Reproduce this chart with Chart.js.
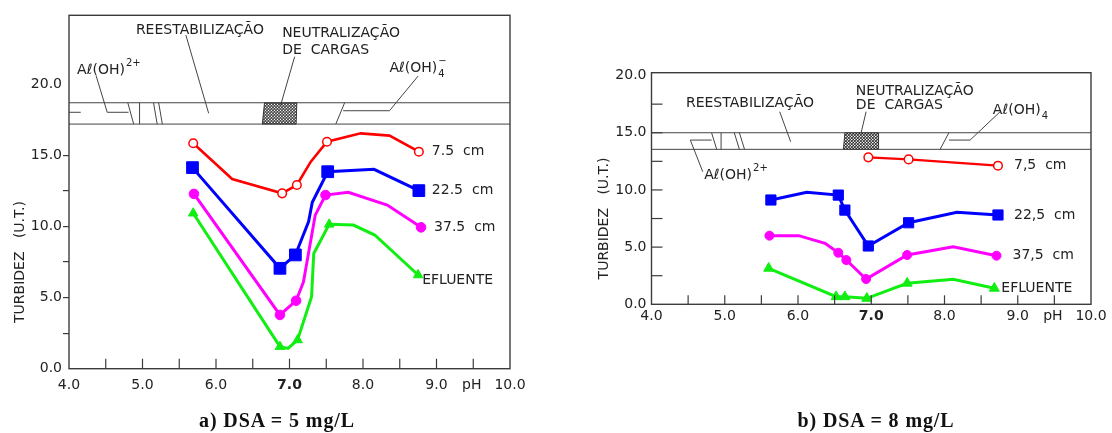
<!DOCTYPE html>
<html>
<head>
<meta charset="utf-8">
<script src="https://cdn.jsdelivr.net/npm/chart.js@4.4.1/dist/chart.umd.min.js"></script>
<style>
  body { margin: 0; background: #fff; width: 1112px; height: 433px; position: relative; overflow: hidden; }
  canvas { position: absolute; top: 0; }
  .cap { position: absolute; top: 409px; font: bold 20px "Liberation Serif", serif; letter-spacing: 0.9px;
         transform: translateX(-50%); white-space: nowrap; color: #111; }
</style>
</head>
<body>
<canvas id="chartA" width="556" height="433" style="left:0"></canvas>
<canvas id="chartB" width="556" height="433" style="left:556px"></canvas>
<div class="cap" style="left:277px">a) DSA = 5 mg/L</div>
<div class="cap" style="left:876px">b) DSA = 8 mg/L</div>

<script>
// ---------- shared ticks ----------
const xTicks = [4, 4.5, 5, 5.5, 6, 6.5, 7, 7.5, 8, 8.5, 9, 9.5, 10];
const yTicksA = [0, 2.5, 5, 7.5, 10, 12.5, 15, 20];
const yTicksB = [0, 2.5, 5, 7.5, 10, 12.5, 15, 17.5, 20];

// ---------- a) DSA = 5 mg/L ----------
const namesA = ['7.5  cm', '22.5  cm', '37.5  cm', 'EFLUENTE'];
const phRedA    = [5.69, 6.22, 6.90, 7.10, 7.29, 7.51, 7.97, 8.36, 8.76];
const turbRedA  = [15.85, 13.34, 12.33, 12.92, 14.56, 15.96, 16.55, 16.39, 15.26];
const markRedA  = [1, 0, 1, 1, 0, 1, 0, 0, 1];
const phBlueA   = [5.68, 6.87, 7.08, 7.26, 7.31, 7.52, 8.15, 8.76];
const turbBlueA = [14.14, 7.06, 8.0, 10.34, 11.7, 13.85, 14.02, 12.52];
const markBlueA = [1, 1, 1, 0, 0, 1, 0, 1];
const phMagA    = [5.70, 6.87, 7.09, 7.19, 7.35, 7.49, 7.80, 8.33, 8.79];
const turbMagA  = [12.29, 3.78, 4.78, 6.1, 10.8, 12.21, 12.4, 11.51, 9.94];
const markMagA  = [1, 1, 1, 0, 0, 1, 0, 0, 1];
const phGrnA    = [5.69, 6.87, 6.98, 7.11, 7.30, 7.33, 7.54, 7.87, 8.16, 8.75];
const turbGrnA  = [10.93, 1.55, 1.43, 2.02, 5.06, 8.1, 10.15, 10.1, 9.4, 6.59];
const markGrnA  = [1, 1, 0, 1, 0, 0, 1, 0, 0, 1];

// ---------- b) DSA = 8 mg/L ----------
const namesB = ['7,5  cm', '22,5  cm', '37,5  cm', 'EFLUENTE'];
const phRedB    = [6.96, 7.51, 8.73];
const turbRedB  = [12.85, 12.67, 12.12];
const markRedB  = [1, 1, 1];
const phBlueB   = [5.63, 6.12, 6.55, 6.64, 6.96, 7.51, 8.17, 8.73];
const turbBlueB = [9.12, 9.79, 9.55, 8.24, 5.10, 7.13, 8.04, 7.81];
const markBlueB = [1, 0, 1, 1, 1, 1, 0, 1];
const phMagB    = [5.61, 6.01, 6.37, 6.55, 6.66, 6.93, 7.49, 8.12, 8.71];
const turbMagB  = [6.0, 6.0, 5.33, 4.51, 3.87, 2.21, 4.31, 5.03, 4.25];
const markMagB  = [1, 0, 0, 1, 1, 1, 1, 0, 1];
const phGrnB    = [5.60, 6.52, 6.64, 6.94, 7.49, 8.12, 8.68];
const turbGrnB  = [3.15, 0.66, 0.66, 0.52, 1.84, 2.19, 1.40];
const markGrnB  = [1, 1, 1, 1, 1, 0, 1];

const FONT = '"DejaVu Sans", sans-serif';
const INK = '#222';
const FRAME = '#3c3c3c';

Chart.defaults.font.family = FONT;
Chart.defaults.font.size = 14;
Chart.defaults.color = INK;

function series(ph, turb, mark, color, style, r, fill, lw) {
  return {
    data: ph.map((x, i) => ({ x: x, y: turb[i] })),
    borderColor: color,
    borderWidth: lw,
    tension: 0,
    pointStyle: style,
    pointRadius: ctx => mark[ctx.dataIndex] ? r : 0,
    pointHoverRadius: ctx => mark[ctx.dataIndex] ? r : 0,
    pointBackgroundColor: fill,
    pointBorderColor: color,
    pointBorderWidth: style === 'circle' && fill === '#ffffff' ? 1.5 : 1
  };
}

function drawPath(ctx, pts, X, Y) {
  ctx.beginPath();
  pts.forEach((p, i) => i ? ctx.lineTo(X(p[0]), Y(p[1])) : ctx.moveTo(X(p[0]), Y(p[1])));
  ctx.stroke();
}

// Aℓ(OH) with a raised or lowered suffix
function drawAl(ctx, x, y, sup, sub) {
  ctx.font = '14px ' + FONT;
  ctx.textAlign = 'left';
  ctx.textBaseline = 'middle';
  ctx.fillText('Aℓ(OH)', x, y);
  const w = ctx.measureText('Aℓ(OH)').width;
  ctx.font = '10px ' + FONT;
  if (sup) ctx.fillText(sup, x + w + 1, y - 7);
  if (sub) ctx.fillText(sub, x + w + 1, y + 6);
}

function makeFigure(id, cfg) {
  const W = 556, H = 433, a = cfg.area;
  const figure = {
    id: 'figure_' + id,
    beforeDatasetsDraw(chart) {
      const ctx = chart.ctx, xs = chart.scales.x, ys = chart.scales.y;
      const X = v => xs.getPixelForValue(v), Y = v => ys.getPixelForValue(v);
      const an = cfg.ann;
      ctx.save();
      ctx.strokeStyle = '#444';
      ctx.lineWidth = 1;
      // band
      [an.band[0], an.band[1]].forEach(v => {
        ctx.beginPath(); ctx.moveTo(a.left, Y(v)); ctx.lineTo(a.right, Y(v)); ctx.stroke();
      });
      an.segs.forEach(s => drawPath(ctx, s, X, Y));
      // hatched zone
      ctx.save();
      ctx.beginPath();
      an.hatch.forEach((p, i) => i ? ctx.lineTo(X(p[0]), Y(p[1])) : ctx.moveTo(X(p[0]), Y(p[1])));
      ctx.closePath();
      ctx.stroke();
      ctx.clip();
      ctx.strokeStyle = '#1a1a1a';
      ctx.lineWidth = 1;
      const hx0 = X(an.hatch[3][0]) - 30, hx1 = X(an.hatch[1][0]) + 30;
      const hy0 = Y(an.band[1]), hy1 = Y(an.band[0]);
      for (let t = hx0; t < hx1; t += 3) {
        ctx.beginPath(); ctx.moveTo(t, hy1); ctx.lineTo(t + (hy1 - hy0), hy0); ctx.stroke();
        ctx.beginPath(); ctx.moveTo(t, hy0); ctx.lineTo(t + (hy1 - hy0), hy1); ctx.stroke();
      }
      ctx.restore();
      // texts
      ctx.fillStyle = INK;
      ctx.font = '14px ' + FONT;
      ctx.textAlign = 'left';
      ctx.textBaseline = 'middle';
      an.texts.forEach(t => ctx.fillText(t[0], X(t[1]), Y(t[2])));
      an.al.forEach(t => drawAl(ctx, X(t[0]), Y(t[1]), t[2], t[3]));
      ctx.restore();
    },
    afterDraw(chart) {
      const ctx = chart.ctx, xs = chart.scales.x, ys = chart.scales.y;
      const X = v => xs.getPixelForValue(v), Y = v => ys.getPixelForValue(v);
      ctx.save();
      ctx.strokeStyle = FRAME;
      ctx.lineWidth = 1.4;
      ctx.strokeRect(a.left, a.top, a.right - a.left, a.bottom - a.top);
      ctx.lineWidth = 1.2;
      // inward x ticks
      xTicks.filter(v => v > 4 && v < 10).forEach(v => {
        ctx.beginPath(); ctx.moveTo(X(v), a.bottom); ctx.lineTo(X(v), a.bottom - cfg.xTickLen); ctx.stroke();
      });
      // inward y ticks
      if (cfg.yTickIn) {
        cfg.yTicks.filter(v => v > 0 && v < 20).forEach(v => {
          ctx.beginPath(); ctx.moveTo(a.left, Y(v)); ctx.lineTo(a.left + cfg.yTickIn, Y(v)); ctx.stroke();
        });
      }
      ctx.fillStyle = INK;
      ctx.font = '14px ' + FONT;
      ctx.textBaseline = 'middle';
      ctx.textAlign = 'left';
      // series names next to last points
      chart.data.datasets.forEach((ds, i) => {
        const last = ds.data[ds.data.length - 1];
        const off = cfg.nameOff[i];
        ctx.fillText(cfg.names[i], X(last.x) + off[0], Y(last.y) + off[1]);
      });
      // pH unit
      ctx.textAlign = 'center';
      ctx.fillText('pH', X(9.48), a.bottom + cfg.xLabelGap);
      // axis title
      ctx.translate(cfg.titleX, Y(7.5));
      ctx.rotate(-Math.PI / 2);
      ctx.fillText('TURBIDEZ   (U.T.)', 0, 0);
      ctx.restore();
    }
  };

  return new Chart(document.getElementById(id), {
    type: 'line',
    data: { datasets: cfg.datasets },
    options: {
      responsive: false,
      animation: false,
      layout: { padding: { left: 0, top: a.top, right: W - a.right, bottom: 0 } },
      plugins: { legend: { display: false }, tooltip: { enabled: false } },
      scales: {
        x: {
          type: 'linear', min: 4, max: 10,
          afterBuildTicks: s => { s.ticks = xTicks.map(v => ({ value: v })); },
          afterFit: s => { s.height = H - a.bottom; },
          grid: { display: false, drawTicks: false },
          border: { display: false },
          ticks: {
            autoSkip: false, maxRotation: 0, padding: cfg.xLabelGap - 8.4,
            callback: v => Number.isInteger(v) ? v.toFixed(1) : '',
            font: ctx => ({ family: FONT, size: 14, weight: ctx.tick && ctx.tick.value === 7 ? 'bold' : 'normal' })
          }
        },
        y: {
          type: 'linear', min: 0, max: cfg.yMax,
          afterBuildTicks: s => { s.ticks = cfg.yTicks.map(v => ({ value: v })); },
          afterFit: s => { s.width = a.left; },
          grid: {
            display: cfg.yTickOut > 0, drawOnChartArea: false, drawTicks: cfg.yTickOut > 0,
            tickLength: cfg.yTickOut, lineWidth: 1.2,
            color: ctx => ctx.tick && ctx.tick.value <= 15 && ctx.tick.value > 0 ? FRAME : 'rgba(0,0,0,0)'
          },
          border: { display: false },
          ticks: {
            autoSkip: false, padding: cfg.yLabelPad,
            callback: v => v % 5 === 0 ? v.toFixed(1) : ''
          }
        }
      }
    },
    plugins: [figure]
  });
}

makeFigure('chartA', {
  area: { left: 69, top: 15.3, right: 510, bottom: 368.7 },
  yMax: 24.85, yTicks: yTicksA, yTickOut: 6, yTickIn: 0, yLabelPad: 1,
  xTickLen: 10, xLabelGap: 16.3, titleX: 20,
  names: namesA,
  nameOff: [[13, 0], [13, 0], [13, 0], [4, 5]],
  datasets: [
    series(phRedA, turbRedA, markRedA, '#ff0000', 'circle', 4.3, '#ffffff', 2.6),
    series(phBlueA, turbBlueA, markBlueA, '#0000ff', 'rect', 8.3, '#0000ff', 3),
    series(phMagA, turbMagA, markMagA, '#ff00ff', 'circle', 4.8, '#ff00ff', 3),
    series(phGrnA, turbGrnA, markGrnA, '#11ee11', 'triangle', 5.5, '#11ee11', 3)
  ],
  ann: {
    band: [17.2, 18.7],
    segs: [
      [[4.0, 18.03], [4.16, 18.03]],
      [[4.37, 20.58], [4.52, 18.03], [4.81, 18.03]],
      [[4.80, 18.7], [4.88, 17.2]],
      [[4.96, 18.7], [4.96, 17.2]],
      [[5.15, 18.7], [5.20, 17.2]],
      [[5.22, 18.7], [5.27, 17.2]],
      [[5.59, 23.46], [5.90, 17.96]],
      [[7.07, 21.94], [6.88, 18.54]],
      [[7.75, 18.7], [7.63, 17.2]],
      [[7.73, 18.14], [8.36, 18.14], [8.75, 20.58]]
    ],
    hatch: [[6.66, 18.7], [7.10, 18.7], [7.09, 17.2], [6.63, 17.2]],
    texts: [
      ['REESTABILIZAÇÃO', 4.91, 23.8],
      ['NEUTRALIZAÇÃO', 6.90, 23.55],
      ['DE  CARGAS', 6.90, 22.4]
    ],
    al: [[4.11, 21.0, '2+', ''], [8.36, 21.1, '−', '4']]
  }
});

makeFigure('chartB', {
  area: { left: 95.5, top: 72.7, right: 535, bottom: 304.3 },
  yMax: 20.25, yTicks: yTicksB, yTickOut: 0, yTickIn: 11, yLabelPad: 5,
  xTickLen: 9, xLabelGap: 12.4, titleX: 48,
  names: namesB,
  nameOff: [[16, 0], [16, 0], [16, 0], [7, 0]],
  datasets: [
    series(phRedB, turbRedB, markRedB, '#ff0000', 'circle', 4.3, '#ffffff', 2.2),
    series(phBlueB, turbBlueB, markBlueB, '#0000ff', 'rect', 7.2, '#0000ff', 3),
    series(phMagB, turbMagB, markMagB, '#ff00ff', 'circle', 4.5, '#ff00ff', 3),
    series(phGrnB, turbGrnB, markGrnB, '#11ee11', 'triangle', 5.8, '#11ee11', 3)
  ],
  ann: {
    band: [13.55, 15.0],
    segs: [
      [[4.82, 14.36], [4.53, 14.36], [4.70, 11.59]],
      [[4.82, 15.0], [4.89, 13.55]],
      [[4.95, 15.0], [4.95, 13.55]],
      [[5.13, 15.0], [5.20, 13.55]],
      [[5.20, 15.0], [5.27, 13.55]],
      [[5.75, 16.84], [5.90, 14.21]],
      [[6.93, 16.84], [6.86, 14.95]],
      [[8.06, 15.0], [7.94, 13.55]],
      [[8.06, 14.36], [8.35, 14.36], [8.76, 16.84]]
    ],
    hatch: [[6.64, 15.0], [7.10, 15.0], [7.10, 13.55], [6.62, 13.55]],
    texts: [
      ['REESTABILIZAÇÃO', 4.47, 17.57],
      ['NEUTRALIZAÇÃO', 6.79, 18.58],
      ['DE  CARGAS', 6.79, 17.42]
    ],
    al: [[4.72, 11.3, '2+', ''], [8.66, 16.98, '', '4']]
  }
});
</script>
</body>
</html>
